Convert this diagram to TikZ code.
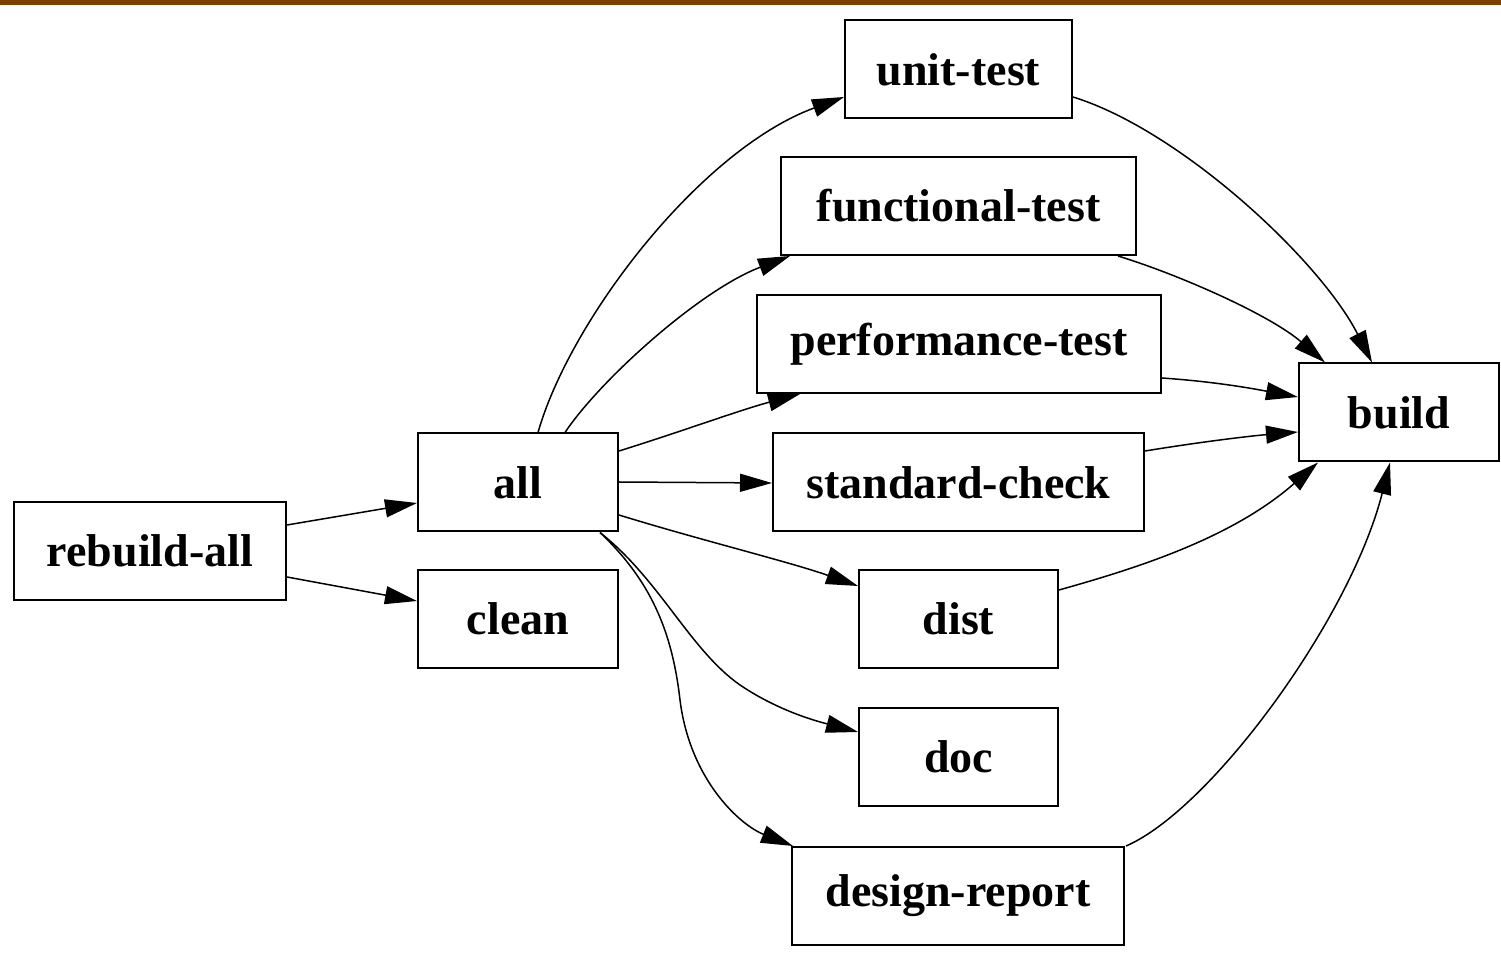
\documentclass[tikz,border=0pt]{standalone}
\usepackage{fontspec}
\setmainfont{Liberation Serif}
\usetikzlibrary{arrows.meta}
\definecolor{barbrown}{RGB}{128,64,0}
\begin{document}
\begin{tikzpicture}[x=0.5pt,y=-0.5pt,
  box/.style={draw=black,line width=1pt,rectangle,inner sep=0pt,minimum height=49pt,
    font=\fontsize{23}{26}\selectfont\bfseries},
  edge/.style={draw=black,line width=0.75pt,-{Triangle[length=16pt,width=9pt]}}]
\useasboundingbox (0,0) rectangle (1501,956);
\fill[barbrown] (0,0) rectangle (1501,5);
\node[box,minimum width=136pt] (rb) at (150,551) {rebuild-all};
\node[box,minimum width=100pt] (all) at (518,482.5) {all};
\node[box,minimum width=100pt] (clean) at (518,619) {clean};
\node[box,minimum width=113.5pt] (ut) at (958.5,69.5) {unit-test};
\node[box,minimum width=177.5pt] (ft) at (958.5,206) {functional-test};
\node[box,minimum width=202pt] (pt) at (959,344) {performance-test};
\node[box,minimum width=185.5pt] (sc) at (958.5,482.5) {standard-check};
\node[box,minimum width=99.5pt] (dist) at (958.5,619) {dist};
\node[box,minimum width=99.5pt] (doc) at (958.5,757) {doc};
\node[box,minimum width=166pt] (dr) at (958,896) {design-report};
\node[box,minimum width=100pt] (build) at (1399,412.5) {build};

% rebuild-all
\draw[edge] (rb.east |- 0,525) -- (all.west |- 0,503);
\draw[edge] (rb.east |- 0,577) -- (clean.west |- 0,601);
% all to tests
\draw[edge] (all.north -| 538,0) .. controls (570,320) and (700,150) .. (ut.west |- 0,97);
\draw[edge] (all.north -| 565,0) .. controls (600,380) and (700,290) .. (ft.south -| 790,0);
\draw[edge] (all.east |- 0,451) .. controls (680,432) and (740,410) .. (pt.south -| 800,0);
\draw[edge] (all.east |- 0,482) -- (sc.west |- 0,483);
\draw[edge] (all.east |- 0,515) .. controls (700,540) and (790,562) .. (dist.west |- 0,586);
\draw[edge] (all.south -| 600,0) .. controls (660,580) and (690,650) .. (740,685)
   .. controls (780,712) and (820,722) .. (doc.west |- 0,732);
\draw[edge] (all.south -| 600,0) .. controls (650,580) and (672,630) .. (680,700)
   .. controls (690,780) and (740,825) .. (dr.north -| 793,0);
% to build
\draw[edge] (ut.east |- 0,97) .. controls (1180,130) and (1320,260) .. (build.north -| 1372,0);
\draw[edge] (ft.south -| 1118,0) .. controls (1180,275) and (1270,315) .. (build.north -| 1325,0);
\draw[edge] (pt.east |- 0,378) .. controls (1220,382) and (1260,390) .. (build.west |- 0,397);
\draw[edge] (sc.east |- 0,451) .. controls (1200,442) and (1250,436) .. (build.west |- 0,432);
\draw[edge] (dist.east |- 0,590) .. controls (1130,570) and (1230,540) .. (build.south -| 1318,0);
\draw[edge] (dr.north -| 1126,0) .. controls (1210,810) and (1350,620) .. (build.south -| 1390,0);
\end{tikzpicture}
\end{document}
